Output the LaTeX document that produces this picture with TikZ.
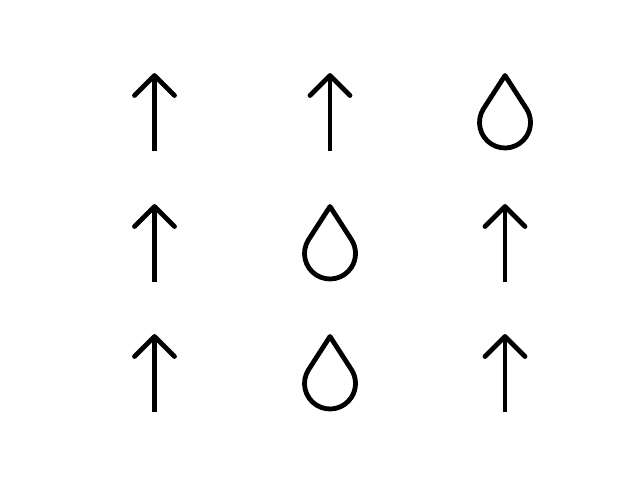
\documentclass[tikz,border=0pt]{standalone}
\tikzset{
  glyph/.style={draw=black, line width=4.8pt, line join=round, line cap=round},
  arrowglyph/.pic={
    \draw[glyph, line cap=butt] (0,-79pt) -- (0,-3.5pt);
    \draw[glyph] (-20pt,-23.5pt) -- (0,-3.5pt) -- (20pt,-23.5pt);
  },
  dropglyph/.pic={
    \draw[glyph, shift={(0,-50.5pt)}] (0,47pt) -- (147.5:25.5pt) arc[start angle=147.5, end angle=392.5, radius=25.5pt] -- cycle;
  },
}
\begin{document}
\begin{tikzpicture}[x=1pt,y=1pt]
\useasboundingbox (0,0) rectangle (640,480);
%Top row
\pic at (154.5,408) {arrowglyph};
\pic at (330,408) {arrowglyph};
\pic at (505,408) {dropglyph};
%Middle row
\pic at (154.5,277) {arrowglyph};
\pic at (330,277) {dropglyph};
\pic at (505,277) {arrowglyph};
%Bottom row
\pic at (154.5,147) {arrowglyph};
\pic at (330,147) {dropglyph};
\pic at (505,147) {arrowglyph};
\end{tikzpicture}
\end{document}
